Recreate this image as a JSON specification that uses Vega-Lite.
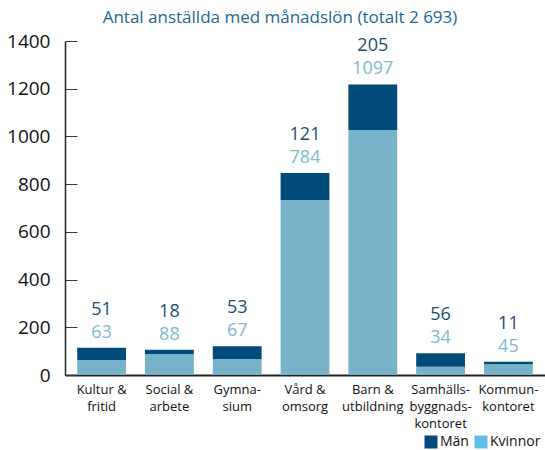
{
  "$schema": "https://vega.github.io/schema/vega-lite/v6.json",
  "width": 480,
  "height": 334,
  "autosize": {"type": "none"},
  "padding": {"left": 65, "top": 41, "right": 0, "bottom": 75},
  "background": "white",
  "config": {"font": "Open Sans", "view": {"stroke": null}},
  "title": {
    "text": "Antal anställda med månadslön (totalt 2 693)",
    "fontSize": 17,
    "fontWeight": "normal",
    "color": "#21669b",
    "anchor": "middle",
    "dx": -25,
    "offset": 5
  },
  "data": {
    "values": [
      {"kategori": "Kultur &\nfritid", "kon": "Kvinnor", "antal": 63, "etikett": "63"},
      {"kategori": "Kultur &\nfritid", "kon": "Män", "antal": 51, "etikett": "51"},
      {"kategori": "Social &\narbete", "kon": "Kvinnor", "antal": 88, "etikett": "88"},
      {"kategori": "Social &\narbete", "kon": "Män", "antal": 18, "etikett": "18"},
      {"kategori": "Gymna-\nsium", "kon": "Kvinnor", "antal": 67, "etikett": "67"},
      {"kategori": "Gymna-\nsium", "kon": "Män", "antal": 53, "etikett": "53"},
      {"kategori": "Vård &\nomsorg", "kon": "Kvinnor", "antal": 734, "etikett": "784"},
      {"kategori": "Vård &\nomsorg", "kon": "Män", "antal": 113, "etikett": "121"},
      {"kategori": "Barn &\nutbildning", "kon": "Kvinnor", "antal": 1027, "etikett": "1097"},
      {"kategori": "Barn &\nutbildning", "kon": "Män", "antal": 191, "etikett": "205"},
      {"kategori": "Samhälls-\nbyggnads-\nkontoret", "kon": "Kvinnor", "antal": 35, "etikett": "34"},
      {"kategori": "Samhälls-\nbyggnads-\nkontoret", "kon": "Män", "antal": 56, "etikett": "56"},
      {"kategori": "Kommun-\nkontoret", "kon": "Kvinnor", "antal": 45, "etikett": "45"},
      {"kategori": "Kommun-\nkontoret", "kon": "Män", "antal": 11, "etikett": "11"}
    ]
  },
  "encoding": {
    "x": {
      "field": "kategori",
      "type": "nominal",
      "sort": null,
      "scale": {"paddingInner": 0.28, "paddingOuter": 0.18},
      "axis": {
        "title": null,
        "ticks": false,
        "labelAngle": 0,
        "labelFontSize": 13,
        "labelColor": "#111",
        "labelPadding": 8,
        "labelLineHeight": 17,
        "labelBaseline": "top",
        "labelExpr": "split(datum.label, '\\n')",
        "domainColor": "#222",
        "domainWidth": 2
      }
    }
  },
  "resolve": {"axis": {"y": "independent"}},
  "layer": [
    {
      "mark": {"type": "square", "filled": true},
      "encoding": {
        "y": {"datum": 8, "type": "quantitative", "axis": null},
        "size": {"value": 4},
        "fill": {
          "field": "kon",
          "type": "nominal",
          "scale": {"domain": ["Män", "Kvinnor"], "range": ["#004b7a", "#62bee8"]},
          "legend": {
            "title": null,
            "orient": "none",
            "legendX": 359,
            "legendY": 394,
            "direction": "horizontal",
            "symbolType": "square",
            "symbolSize": 169,
            "symbolStrokeWidth": 0,
            "symbolOpacity": 1,
            "labelFontSize": 14,
            "labelColor": "#111",
            "labelOffset": 2,
            "columnPadding": 5
          }
        }
      }
    },
    {
      "mark": {"type": "bar"},
      "encoding": {
        "y": {
          "field": "antal",
          "type": "quantitative",
          "stack": "zero",
          "scale": {"domain": [0, 1400], "nice": false},
          "axis": {
            "title": null,
            "orient": "left",
            "offset": -12,
            "domain": false,
            "values": [0, 200, 400, 600, 800, 1000, 1200, 1400],
            "format": "d",
            "grid": false,
            "tickSize": 12,
            "tickColor": "#333",
            "tickWidth": 1,
            "labelPadding": 15,
            "labelFontSize": 19,
            "labelColor": "#111",
            "zindex": 1
          }
        },
        "color": {
          "field": "kon",
          "type": "nominal",
          "scale": {"domain": ["Kvinnor", "Män"], "range": ["#78b2c8", "#004b7a"]},
          "legend": null
        },
        "order": {"field": "kon"}
      }
    },
    {
      "transform": [
        {"joinaggregate": [{"op": "sum", "field": "antal", "as": "total"}], "groupby": ["kategori"]},
        {"filter": "datum.kon === 'Kvinnor'"}
      ],
      "mark": {"type": "text", "fontSize": 18, "baseline": "middle", "dy": -15, "color": "#82b9d1"},
      "encoding": {
        "y": {
          "field": "total",
          "type": "quantitative",
          "axis": {
            "title": null,
            "orient": "left",
            "domain": true,
            "domainColor": "#222",
            "domainWidth": 1.5,
            "ticks": false,
            "labels": false,
            "grid": false
          }
        },
        "text": {"field": "etikett"}
      }
    },
    {
      "transform": [
        {"joinaggregate": [{"op": "sum", "field": "antal", "as": "total"}], "groupby": ["kategori"]},
        {"filter": "datum.kon === 'Män'"}
      ],
      "mark": {"type": "text", "fontSize": 18, "baseline": "middle", "dy": -38, "color": "#1c4d73"},
      "encoding": {
        "y": {"field": "total", "type": "quantitative", "axis": null},
        "text": {"field": "etikett"}
      }
    }
  ]
}
